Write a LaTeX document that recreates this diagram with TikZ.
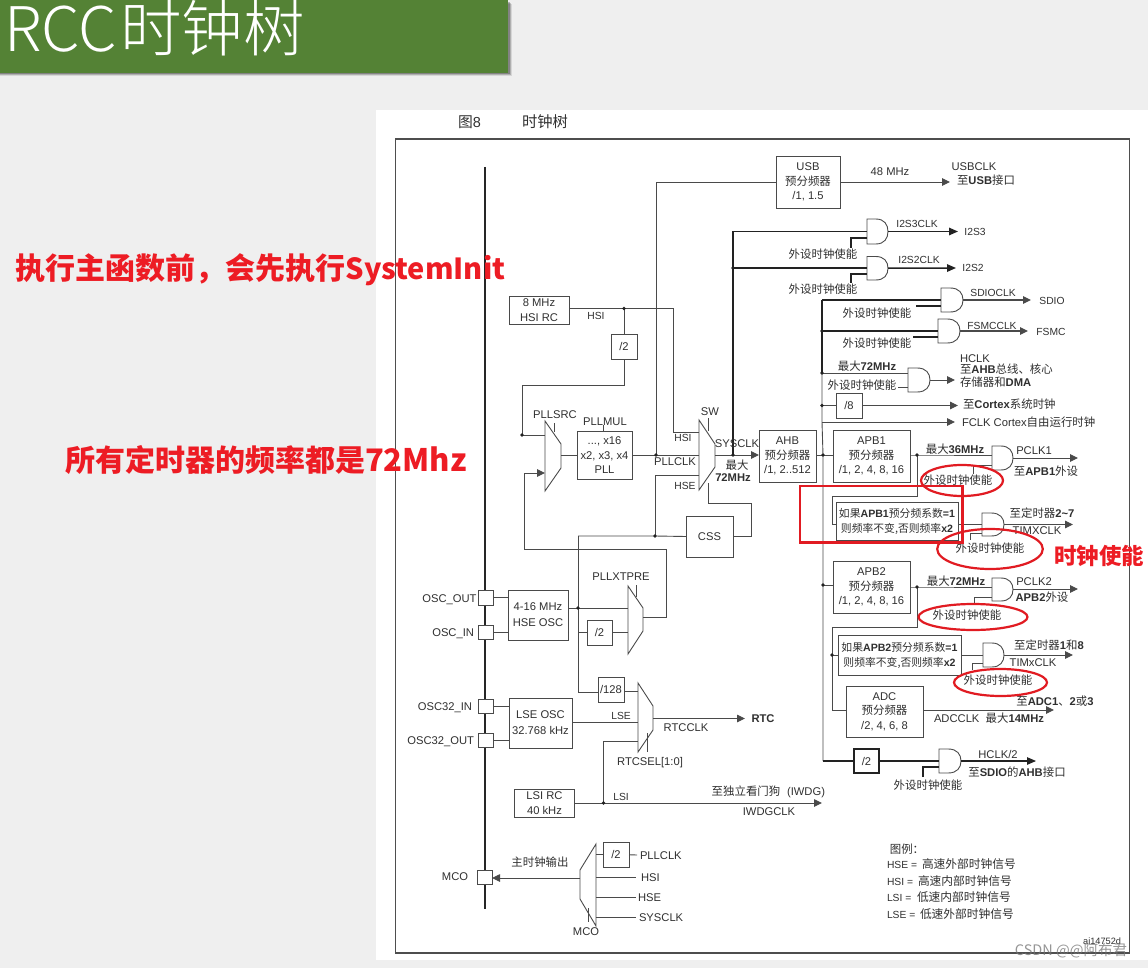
\documentclass[tikz,border=0pt]{standalone}
\usepackage{fontspec}
\setmainfont{Liberation Sans}
\newfontfamily\cjk[Scale=1.02]{Noto Sans CJK SC}
\newfontfamily\cjkt{Noto Sans CJK SC}
\newfontfamily\cjkl{Noto Sans CJK SC Light}
\usetikzlibrary{arrows.meta,calc}
\newcommand\zh[1]{{\cjk #1}}
\newcommand\zhb[1]{{\cjk\bfseries #1}}
\definecolor{ln}{HTML}{4A4A4A}
\definecolor{tx}{HTML}{303030}
\definecolor{thk}{HTML}{222222}
\definecolor{rd}{HTML}{ED1C24}
\definecolor{pg}{HTML}{EFEFEF}
\definecolor{grn}{HTML}{548235}
\tikzset{
  x=1pt,y=-1pt,
  wire/.style={draw=ln,line width=.9pt,line join=miter},
  wirek/.style={draw=thk,line width=1.5pt},
  arr/.style={-{Triangle[length=8pt,width=7.5pt]}},
  bxst/.style={draw=ln,line width=.9pt,inner sep=0pt,outer sep=0pt,align=center,text=tx,font=\fontsize{11.2}{14.5}\selectfont},
  hitbox/.style={inner sep=0pt,outer sep=0pt},
  shp/.style={draw=ln,line width=.9pt,line join=miter},
  lab/.style={inner sep=0pt,outer sep=0pt,text=tx,font=\fontsize{11.2}{14}\selectfont,text height=8pt,text depth=0pt},
  fs/.style={font=\fontsize{10.3}{13}\selectfont},
  lw/.style={anchor=west},
  le/.style={anchor=east},
  redl/.style={inner sep=0pt,outer sep=0pt,text=rd,font=\fontsize{30}{32}\selectfont\bfseries},
  rded/.style={draw=rd!95!black,line width=2.2pt}
}
\newcounter{lblc}
\newcommand\lbl[4][]{\stepcounter{lblc}\node[lab,#1] (t\arabic{lblc}) at (#2,#3) {#4};}
\newcommand\bx[7][]{%
  \pgfmathsetmacro\bw{#5-#3}\pgfmathsetmacro\bh{#6-#4}%
  \pgfmathsetmacro\cx{(#5+#3)/2}\pgfmathsetmacro\cy{(#6+#4)/2}%
  \node[bxst,#1,minimum width=\bw pt,minimum height=\bh pt] (#2) at (\cx,\cy) {#7};}
\newcommand\andgate[5]{%
  \pgfmathsetmacro\bw{#4-#2}\pgfmathsetmacro\bh{#5-#3}%
  \pgfmathsetmacro\cx{(#4+#2)/2}\pgfmathsetmacro\cy{(#5+#3)/2}%
  \pgfmathsetmacro\xm{#2+.42*\bw}\pgfmathsetmacro\xc{#2+.82*\bw}%
  \pgfmathsetmacro\ya{#3+.22*\bh}\pgfmathsetmacro\yb{#3+.78*\bh}%
  \node[hitbox,minimum width=\bw pt,minimum height=\bh pt] (#1) at (\cx,\cy) {};
  \draw[shp] (#2,#3) -- (\xm,#3) .. controls (\xc,#3) and (#4,\ya) .. (#4,\cy) .. controls (#4,\yb) and (\xc,#5) .. (\xm,#5) -- (#2,#5) -- cycle;}
\newcommand\muxn[7]{%
  \pgfmathsetmacro\bw{abs(#3-#2)}\pgfmathsetmacro\bh{#7-#4}%
  \pgfmathsetmacro\cx{(#3+#2)/2}\pgfmathsetmacro\cy{(#7+#4)/2}%
  \node[hitbox,minimum width=\bw pt,minimum height=\bh pt] (#1) at (\cx,\cy) {};
  \draw[shp] (#2,#4) -- (#3,#5) -- (#3,#6) -- (#2,#7) -- cycle;}
\newcommand\jdot[1]{\fill[thk] (#1) circle [radius=1.9];}
\begin{document}
\begin{tikzpicture}
\useasboundingbox (0,0) rectangle (1148,968);
% page
\fill[pg] (0,0) rectangle (1148,968);
\fill[white] (376,110) rectangle (1148,960);
% banner
\fill[black,opacity=.10] (0,4) rectangle (511.5,76.5);
\fill[black,opacity=.18] (0,3) rectangle (510.5,75.5);
\fill[black,opacity=.25] (0,2) rectangle (509.5,74.5);
\fill[grn] (0,0) rectangle (508,73);
\begin{scope}
\clip (0,0) rectangle (508,73);
\node[anchor=base west,inner sep=0pt,text=white,font=\fontsize{61.5}{64}\selectfont\cjkl] (title) at (4,52) {RCC\hspace{3pt}时钟树};
\end{scope}
% frame
\draw[draw=thk!80,line width=1.3pt] (395.5,139) rectangle (1129.5,953);
\coordinate (railT) at (485,167); \coordinate (railB) at (485,909);
\draw[draw=black!85,line width=1.8pt] (railT) -- (railB);
\lbl[lw,font=\fontsize{14.5}{16}\selectfont]{458}{124}{\zh{图}8}
\lbl[lw,font=\fontsize{15}{16}\selectfont]{522}{124}{\zh{时钟树}}

% ---------- boxes
\bx{usb}{776}{156}{840}{208}{USB\\\zh{预分频器}\\/1, 1.5}
\bx{hsi}{509}{296}{569}{324}{8 MHz\\HSI RC}
\bx{dvh}{611}{334}{637}{359}{/2}
\bx{pll}{577}{431.5}{632}{479}{..., x16\\x2, x3, x4\\PLL}
\bx{ahb}{759}{430}{816}{482}{AHB\\\zh{预分频器}\\/1, 2..512}
\bx{apba}{833}{430}{910}{482}{APB1\\\zh{预分频器}\\/1, 2, 4, 8, 16}
\bx{apbb}{833}{561}{910}{613}{APB2\\\zh{预分频器}\\/1, 2, 4, 8, 16}
\bx{adc}{846}{686}{923}{737}{ADC\\\zh{预分频器}\\/2, 4, 6, 8}
\bx[font=\fontsize{10.6}{15}\selectfont]{tba}{836}{502}{958}{540}{\zh{如果}\textbf{APB1}\zh{预分频系数}\textbf{=1}\\\zh{则频率不变,否则频率}\textbf{x2}}
\bx[font=\fontsize{10.6}{15}\selectfont]{tbb}{838}{635}{961}{675}{\zh{如果}\textbf{APB2}\zh{预分频系数}\textbf{=1}\\\zh{则频率不变,否则频率}\textbf{x2}}
\bx{css}{686}{516}{733}{557}{CSS}
\bx{hse}{508}{590}{568}{640}{4-16 MHz\\[1.5pt]HSE OSC}
\bx{dvx}{587}{620}{612}{645}{/2}
\bx{dvr}{598}{677}{624}{702}{/128}
\bx{lse}{509}{698}{572}{748}{LSE OSC\\[1.5pt]32.768 kHz}
\bx{lsi}{514.5}{789}{574.5}{817}{LSI RC\\40 kHz}
\bx{dvm}{603}{842}{629}{867.5}{/2}
\bx{dvc}{836}{393}{862}{418}{/8}
\bx[draw=thk,line width=1.5pt]{dvs}{854}{749}{879}{773}{/2}
% pads
\bx[fill=white]{pOO}{478}{590.5}{493}{605}{}
\bx[fill=white]{pOI}{478}{625}{493}{639}{}
\bx[fill=white]{pLI}{478}{699}{493}{713}{}
\bx[fill=white]{pLO}{478}{733}{493}{747}{}
\bx[fill=white]{pMC}{477}{870}{492}{884}{}

% ---------- muxes
\muxn{src}{545}{561}{421}{444}{468}{491}
\muxn{sw}{699}{715}{420}{444}{467}{490}
\muxn{xtp}{628}{643}{586}{608}{631}{654}
\muxn{rtc}{638}{653}{683}{706}{730}{752}
\muxn{mco}{596}{580}{844}{870}{899}{926}

% ---------- gates
\andgate{gc}{867}{219}{888}{244}
\andgate{gb}{867}{256.5}{888}{280}
\andgate{gsd}{941}{288}{963}{312}
\andgate{gfs}{938}{319}{960}{343}
\andgate{ghc}{908}{368}{930}{392}
\andgate{gpa}{992}{446}{1013}{470}
\andgate{gta}{982}{513}{1004}{536}
\andgate{gpb}{992}{578}{1013}{601}
\andgate{gtb}{983}{643}{1004}{667}
\andgate{gs2}{939}{749}{961}{773}

% ---------- junctions
\coordinate (jhsi) at (624,308.5);
\coordinate (jsrc) at (522,435);
\coordinate (jpll) at (656,455);
\coordinate (jsys) at (733,455);
\coordinate (jiis) at (733,268);
\coordinate (jbsd) at (822,300);
\coordinate (jbfs) at (822,331);
\coordinate (jbhc) at (822,373);
\coordinate (jbc8) at (822,405.5);
\coordinate (jbfc) at (822,422);
\coordinate (jahb) at (823,455);
\coordinate (jabb) at (823,585);
\coordinate (jbot) at (823,761);
\coordinate (ja1) at (917,455);
\coordinate (ja2) at (917,587);
\coordinate (jt2) at (832,655);
\coordinate (jcss) at (655,536);
\coordinate (jhos) at (578,608);
\coordinate (jlsi) at (603.5,803);
\coordinate (usbE) at (950,182);
\coordinate (i3E) at (958,231.5);
\coordinate (i2E) at (956,268);
\coordinate (sdE) at (1031,300);
\coordinate (fsE) at (1028,331);
\coordinate (hcE) at (955,380);
\coordinate (c8E) at (958,405.5);
\coordinate (fcE) at (955,422);
\coordinate (p1E) at (1078,458);
\coordinate (taE) at (1073,524.5);
\coordinate (p2E) at (1078,589);
\coordinate (tbE) at (1073,655);
\coordinate (adE) at (1054,710);
\coordinate (s2E) at (1036,761);
\coordinate (rtE) at (745,718.5);
\coordinate (iwE) at (822,803);

% ---------- connectors: left
\draw[wire] (hsi.east |- jhsi) -- (jhsi) -- (673,308.5) -- (673,432) -- (sw.west |- 673,432);
\draw[wire] (jhsi) -- (dvh.north);
\draw[wire] (dvh.south) -- (624,385) -- (522,385) -- (jsrc) -- (src.west |- jsrc);
\draw[wire,arr] (xtp.east |- 643,617) -- (666,617) -- (666,549) -- (524,549) -- (524,473) -- (src.west |- 524,473);
\draw[wire] (src.east |- pll.west) -- (pll.west);
\draw[wire] (pll.east) -- (sw.west |- pll.east);
\draw[wire] (jpll) -- (656,182) -- (usb.west);
\draw[wire,arr] (usb.east) -- (usbE);
\draw[wire] (sw.west |- 655,475) -- (655,475) -- (jcss);
\draw[wire] (578,536) -- (jcss) -- (css.west);
\draw[wire] (css.east) -- (751,536.5) -- (751,503) -- (708,503) -- (708,483);
\draw[wire] (708,418) -- (708,431);
\draw[wire] (554,423) -- (554,432);
\draw[wire] (603,425) -- (603,431.5);
\draw[wire] (578,536) -- (578,692) -- (dvr.west |- 578,692);
\draw[wire] (hse.east |- jhos) -- (xtp.west |- jhos);
\draw[wire] (578,632.5) -- (dvx.west);
\draw[wire] (dvx.east) -- (xtp.west |- dvx.east);
\draw[wire] (636,585) -- (636,597);
\draw[wire] (pOO.east) -- (hse.west |- pOO.east);
\draw[wire] (pOI.east) -- (hse.west |- pOI.east);
\draw[wire] (pLI.east) -- (lse.west |- pLI.east);
\draw[wire] (pLO.east) -- (lse.west |- pLO.east);
\draw[wire] (dvr.east |- 624,691) -- (rtc.west |- 624,691);
\draw[wire] (lse.east |- 572,722) -- (rtc.west |- 572,722);
\draw[wire,arr] (rtc.east |- rtE) -- (rtE);
\draw[wire] (lsi.east) -- (jlsi);
\draw[wire,arr] (jlsi) -- (iwE);
\draw[wire] (jlsi) -- (603.5,741.5) -- (rtc.west |- 603.5,741.5);
\draw[wire] (647,733) -- (647,752);
\draw[wire,arr] (mco.west |- 580,878) -- (pMC.east |- 580,878);
\draw[wire] (mco.east |- dvm.west) -- (dvm.west);
\coordinate (mHSI) at (636,877); \coordinate (mHSE) at (636,897); \coordinate (mSYS) at (636,917); \coordinate (mPLL) at (637,855);
\draw[wire] (dvm.east) -- (mPLL);
\draw[wire] (mco.east |- mHSI) -- (mHSI);
\draw[wire] (mco.east |- mHSE) -- (mHSE);
\draw[wire] (mco.east |- mSYS) -- (mSYS);
\draw[wire] (588,908) -- (588,922);

% ---------- connectors: centre
\draw[wire,arr] (sw.east) -- (ahb.west |- sw.east);
\draw[wirek] (jsys) -- (733,231.5) -- (gc.west);
\draw[wirek] (jiis) -- (gb.west |- jiis);
\draw[wire] (ahb.east |- jahb) -- (apba.west |- jahb);
\draw[wirek,draw=thk] (jbsd) -- (gsd.west);
\draw[wirek,draw=thk] (jbsd) -- (jbhc);
\draw[wirek,line width=1.2pt] (jbfs) -- (gfs.west);
\draw[wire] (jbhc) -- (ghc.west |- jbhc);
\draw[wire] (jbhc) -- (jbfc) -- (jahb) -- (jabb) -- (jbot);
\draw[wire] (jbc8) -- (dvc.west);
\draw[wire,arr] (dvc.east) -- (c8E);
\draw[wire,arr] (jbfc) -- (fcE);
\draw[wire] (jabb) -- (apbb.west |- jabb);

% ---------- connectors: gates
\draw[wirek,-{Triangle[length=9pt,width=7.5pt]}] (gc.east) -- (i3E);
\draw[wirek,-{Triangle[length=9pt,width=7.5pt]}] (gb.east) -- (i2E);
\draw[wire,line width=1.1pt,arr] (gsd.east) -- (sdE);
\draw[wire,line width=1.1pt,arr] (gfs.east) -- (fsE);
\draw[wire,arr] (ghc.east) -- (hcE);
\draw[wire,arr] (gpa.east |- p1E) -- (p1E);
\draw[wire,arr] (gta.east) -- (taE);
\draw[wire,arr] (gpb.east |- p2E) -- (p2E);
\draw[wire,arr] (gtb.east) -- (tbE);
\draw[wire,arr] (adc.east |- adE) -- (adE);
\draw[wirek] (jbot) -- (dvs.west);
\draw[wirek] (dvs.east) -- (gs2.west);
\draw[wirek,line width=1.1pt,-{Triangle[length=9pt,width=7.5pt]}] (gs2.east) -- (s2E);
% enables
\draw[wirek,line width=1.2pt] (851,248) -- (851,238) -- (gc.west |- 851,238);
\draw[wirek,line width=1.2pt] (851,283) -- (851,274) -- (gb.west |- 851,274);
\draw[wirek,line width=1.1pt] (916,306) -- (gsd.west |- 916,306);
\draw[wirek,line width=1.1pt] (913,337) -- (gfs.west |- 913,337);
\draw[wire] (898,387) -- (ghc.west |- 898,387);
\draw[wire] (973,474) -- (973,465) -- (gpa.west |- 973,465);
\draw[wire] (970,540) -- (970,533) -- (gta.west |- 970,533);
\draw[wire] (974,604) -- (974,597) -- (gpb.west |- 974,597);
\draw[wire] (972,670) -- (972,663) -- (gtb.west |- 972,663);
\draw[wirek,line width=1.3pt] (923,777) -- (923,767) -- (gs2.west |- 923,767);
% prescaler outputs
\draw[wire] (apba.east |- ja1) -- (ja1) -- (gpa.west |- ja1);
\draw[wire] (ja1) -- (917,496) -- (832,496) -- (832,524) -- (tba.west |- 832,524);
\draw[wire] (tba.east |- gta.west) -- (gta.west);
\draw[wire] (apbb.east |- ja2) -- (ja2) -- (gpb.west |- ja2);
\draw[wire] (ja2) -- (917,627) -- (832,627) -- (jt2) -- (tbb.west |- jt2);
\draw[wire] (jt2) -- (832,710) -- (adc.west |- 832,710);
\draw[wire] (tbb.east |- gtb.west) -- (gtb.west);

% dots
\jdot{jhsi}\jdot{jsrc}\jdot{jpll}\jdot{jsys}\jdot{jiis}\jdot{jbfs}\jdot{jbhc}\jdot{jbc8}\jdot{jahb}\jdot{jabb}\jdot{ja1}\jdot{ja2}\jdot{jt2}\jdot{jcss}\jdot{jhos}\jdot{jlsi}

% ---------- labels: top right
\lbl{890}{172}{48 MHz}
\lbl{974}{167}{USBCLK}
\lbl{986}{181}{\zh{至}\textbf{USB}\zh{接口}}
\lbl[fs]{917}{224}{I2S3CLK}
\lbl[fs]{975}{232}{I2S3}
\lbl[fs]{919}{260}{I2S2CLK}
\lbl[fs]{973}{268}{I2S2}
\lbl[fs]{993}{293}{SDIOCLK}
\lbl[fs]{1052}{300}{SDIO}
\lbl[fs]{992}{325}{FSMCCLK}
\lbl[fs]{1051}{331}{FSMC}
\lbl{823}{255}{\zh{外设时钟使能}}
\lbl{823}{290}{\zh{外设时钟使能}}
\lbl{877}{313}{\zh{外设时钟使能}}
\lbl{877}{343}{\zh{外设时钟使能}}
\lbl{867}{366}{\zh{最大}\textbf{72MHz}}
\lbl{862}{385}{\zh{外设时钟使能}}
\lbl[lw]{960}{358}{HCLK}
\lbl[lw]{960}{369.5}{\zh{至}\textbf{AHB}\zh{总线、核心}}
\lbl[lw]{960}{382}{\zh{存储器和}\textbf{DMA}}
\lbl[lw]{963}{404}{\zh{至}\textbf{Cortex}\zh{系统时钟}}
\lbl[lw]{962}{422}{FCLK Cortex\zh{自由运行时钟}}
% APB1
\lbl{955}{449}{\zh{最大}\textbf{36MHz}}
\lbl{1034}{450}{PCLK1}
\lbl{1046}{471}{\zh{至}\textbf{APB1}\zh{外设}}
\lbl{958}{480}{\zh{外设时钟使能}}
\lbl{1042}{513}{\zh{至定时器}\textbf{2\textasciitilde 7}}
\lbl{1037}{530}{TIMXCLK}
\lbl{990}{548}{\zh{外设时钟使能}}
% APB2
\lbl{956}{581}{\zh{最大}\textbf{72MHz}}
\lbl{1034}{581}{PCLK2}
\lbl{1042}{597}{\textbf{APB2}\zh{外设}}
\lbl{967}{615}{\zh{外设时钟使能}}
\lbl{1049}{645}{\zh{至定时器}\textbf{1}\zh{和}\textbf{8}}
\lbl{1033}{662}{TIMxCLK}
\lbl{998}{680}{\zh{外设时钟使能}}
\lbl{1055}{701}{\zh{至}\textbf{ADC1}\zh{、}\textbf{2}\zh{或}\textbf{3}}
\lbl{989}{718}{ADCCLK\ \ \zh{最大}\textbf{14MHz}}
\lbl{998}{754}{HCLK/2}
\lbl{1017}{772}{\zh{至}\textbf{SDIO}\zh{的}\textbf{AHB}\zh{接口}}
\lbl{928}{785}{\zh{外设时钟使能}}

% ---------- labels: centre / left
\lbl[fs]{596}{315}{HSI}
\lbl[fs]{683}{437}{HSI}
\lbl{555}{414}{PLLSRC}
\lbl{605}{421}{PLLMUL}
\lbl{710}{411}{SW}
\lbl{675}{461}{PLLCLK}
\lbl[fs]{685}{485}{HSE}
\lbl{737}{443.5}{SYSCLK}
\lbl{737}{465}{\zh{最大}}
\lbl{733}{477.5}{\textbf{72MHz}}
\lbl{621}{576}{PLLXTPRE}
\lbl[le]{476.5}{598}{OSC\_OUT}
\lbl[le]{474}{632}{OSC\_IN}
\lbl[le]{472}{706}{OSC32\_IN}
\lbl[le]{474}{740}{OSC32\_OUT}
\lbl[fs]{621}{715}{LSE}
\lbl{686}{727}{RTCCLK}
\lbl{763}{718}{\textbf{RTC}}
\lbl{650}{761}{RTCSEL[1:0]}
\lbl[fs]{621}{796.5}{LSI}
\lbl{746}{791}{\zh{至独立看门狗}}
\lbl{806}{791}{(IWDG)}
\lbl{769}{811}{IWDGCLK}
\lbl{455}{876.5}{MCO}
\lbl{540}{862}{\zh{主时钟输出}}
\lbl{586}{931.5}{MCO}
\lbl[lw]{640}{855}{PLLCLK}
\lbl[lw]{641}{877}{HSI}
\lbl[lw]{638}{897}{HSE}
\lbl[lw]{639}{917}{SYSCLK}
% legend
\lbl{907}{849}{\zh{图例：}}
\lbl[lw,fs]{887}{864}{HSE =}
\lbl[lw]{922}{864}{{\fontsize{11.5}{14}\selectfont\zh{高速外部时钟信号}}}
\lbl[lw,fs]{887}{881}{HSI =}
\lbl[lw]{918}{881}{{\fontsize{11.5}{14}\selectfont\zh{高速内部时钟信号}}}
\lbl[lw,fs]{887}{897}{LSI =}
\lbl[lw]{917}{897}{{\fontsize{11.5}{14}\selectfont\zh{低速内部时钟信号}}}
\lbl[lw,fs]{887}{914}{LSE =}
\lbl[lw]{920}{914}{{\fontsize{11.5}{14}\selectfont\zh{低速外部时钟信号}}}
\lbl[le,font=\fontsize{9.2}{11}\selectfont]{1121}{940}{ai14752d}

% ---------- red overlays
\draw[rded,line width=2.5pt] (800,486) rectangle (962.5,542.5);
\draw[rded] (962,480.5) ellipse [x radius=41,y radius=15.5];
\draw[rded] (990,549) ellipse [x radius=52.8,y radius=20];
\draw[rded] (973,617) ellipse [x radius=54.5,y radius=13];
\draw[rded] (1000.5,682.5) ellipse [x radius=46.5,y radius=13.5];
\node[redl,font=\fontsize{22}{24}\selectfont\bfseries] (redc) at (1099,556) {\zhb{时钟使能}};
\node[redl,anchor=west] (reda) at (15.5,270) {{\cjkt\bfseries 执行主函数前，会先执行{\fontsize{29}{32}\selectfont SystemInit}}};
\node[redl,anchor=west] (redb) at (65,460) {{\cjkt\bfseries 所有定时器的频率都是{\fontsize{31}{32}\selectfont 72Mhz}}};
% watermark
\node[inner sep=0pt,text=black!55,opacity=.75,font=\fontsize{14.5}{16}\selectfont\cjkt] (wm) at (1071,951) {CSDN @@阿布君};
\end{tikzpicture}
\end{document}
